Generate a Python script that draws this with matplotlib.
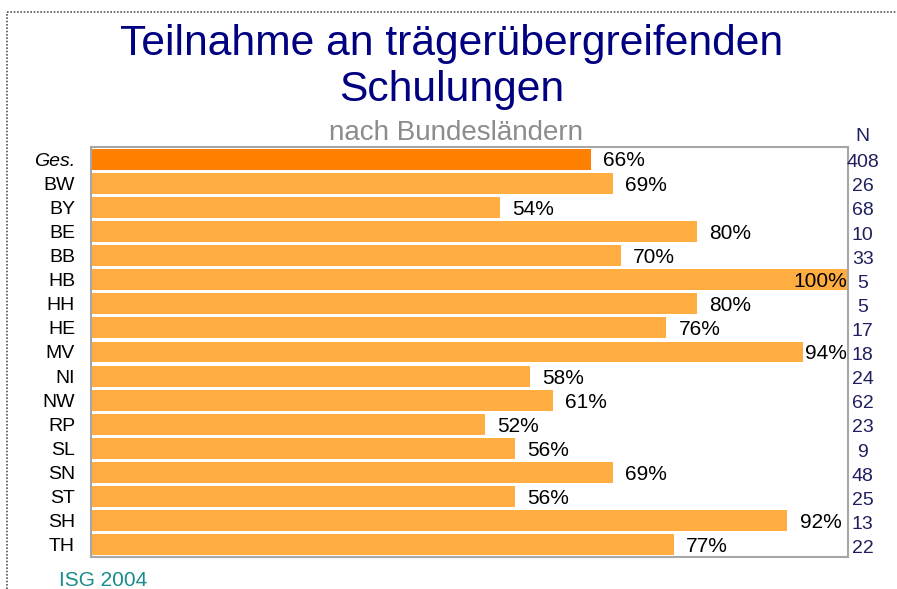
import matplotlib
matplotlib.use("Agg")
import matplotlib.pyplot as plt
from matplotlib.lines import Line2D

categories = ["Ges.", "BW", "BY", "BE", "BB", "HB", "HH", "HE", "MV", "NI",
              "NW", "RP", "SL", "SN", "ST", "SH", "TH"]
values = [66, 69, 54, 80, 70, 100, 80, 76, 94, 58, 61, 52, 56, 69, 56, 92, 77]
n_values = [408, 26, 68, 10, 33, 5, 5, 17, 18, 24, 62, 23, 9, 48, 25, 13, 22]

plt.rcParams['font.family'] = ['Liberation Sans', 'DejaVu Sans']

W, H = 897, 589
fig = plt.figure(figsize=(W / 100, H / 100), dpi=100)
fig.patch.set_facecolor("white")

left, right, top, bottom = 91, 848, 147, 557
ax = fig.add_axes([left / W, 1 - bottom / H, (right - left) / W, (bottom - top) / H])

ypos = list(range(len(categories)))
colors = ["#FF8000"] + ["#FFAD40"] * (len(categories) - 1)
ax.barh(ypos, values, height=0.87, color=colors, edgecolor="none")
ax.set_xlim(0, 100)
ax.set_ylim(len(categories) - 0.5, -0.5)
ax.set_xticks([])
ax.set_yticks(ypos)
ax.set_yticklabels(categories, fontsize=14)
ax.tick_params(axis="y", length=0, pad=11.5)
for lbl in ax.get_yticklabels():
    if lbl.get_text() == "Ges.":
        lbl.set_style("italic")
for s in ax.spines.values():
    s.set_color("#A6A6A6")
    s.set_linewidth(1.5)

# value labels
texts = []
for y, v in zip(ypos, values):
    t = ax.text(v + 1.6, y + 0.08, f"{v}%", ha="left", va="center", fontsize=15, color="black")
    texts.append(t)
fig.canvas.draw()
renderer = fig.canvas.get_renderer()
axbb = ax.get_window_extent(renderer)
for t, y in zip(texts, ypos):
    bb = t.get_window_extent(renderer)
    if bb.x1 > axbb.x1:
        t.set_ha("right")
        t.set_x(99.9)

# N column
tr = ax.get_yaxis_transform()
ax.text(1.0195, -0.95, "N", transform=tr, ha="center", va="center", fontsize=14,
        color="#1F1F5F", clip_on=False)
for y, n in zip(ypos, n_values):
    ax.text(1.0195, y + 0.15, str(n), transform=tr, ha="center", va="center",
            fontsize=14, color="#1F1F5F", clip_on=False)

# titles
fig.text(452 / W, 1 - 44 / H, "Teilnahme an trägerübergreifenden", ha="center", va="center",
         fontsize=30.7, color="#000080")
fig.text(452 / W, 1 - 90 / H, "Schulungen", ha="center", va="center",
         fontsize=30.7, color="#000080")
fig.text(456 / W, 1 - 133 / H, "nach Bundesländern", ha="center", va="center",
         fontsize=20, color="#8C8C8C")

fig.text(59 / W, 1 - 586 / H, "ISG 2004", ha="left", va="baseline", fontsize=15, color="#1A8C8C")

# dotted frame (top and left)
fig.add_artist(Line2D([7 / W, 1], [1 - 12 / H, 1 - 12 / H], transform=fig.transFigure,
                      color="#555555", linestyle=(0, (1, 1)), linewidth=1.2))
fig.add_artist(Line2D([7 / W, 7 / W], [0, 1 - 12 / H], transform=fig.transFigure,
                      color="#555555", linestyle=(0, (1, 1)), linewidth=1.2))

fig.savefig("out.png", dpi=100, facecolor="white")
